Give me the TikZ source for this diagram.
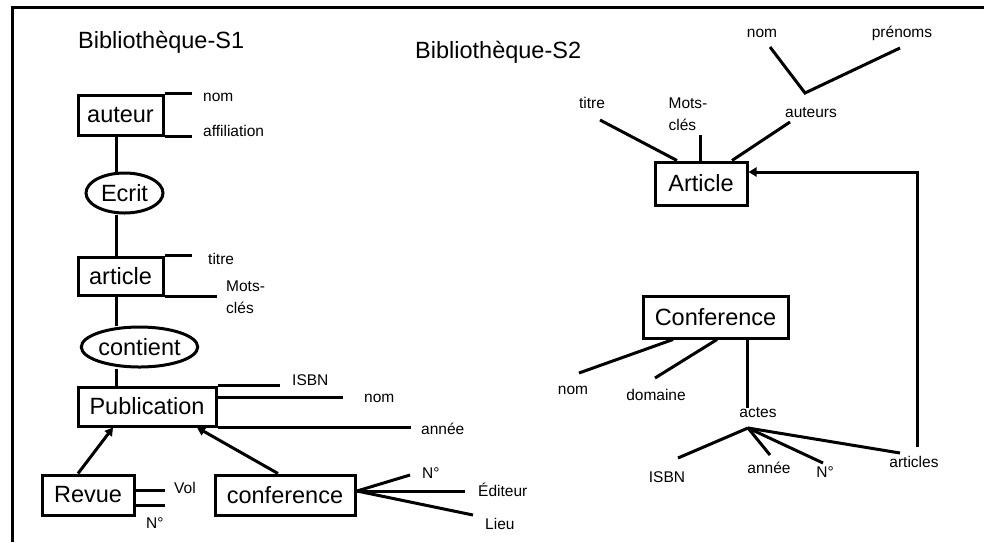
\documentclass[tikz,border=0pt]{standalone}
\usepackage{fontspec}
\setmainfont{Liberation Sans}
\usetikzlibrary{arrows.meta,shapes.geometric}

\tikzset{
  ln/.style={line width=3pt},
  ent/.style={draw, line width=3pt, inner sep=0pt, font=\fontsize{23.5}{26}\selectfont},
  rel/.style={ent, ellipse},
  attr/.style={inner sep=0pt, font=\fontsize{15.5}{22}\selectfont},
  ttl/.style={inner sep=0pt, font=\fontsize{23.5}{26}\selectfont},
  isa/.style={ln, -{Triangle[length=8pt,width=9pt]}},
}

\begin{document}
\begin{tikzpicture}[x=1pt,y=-1pt]
\useasboundingbox (0,0) rectangle (984,542);

% page frame
\coordinate (fr1) at (984,7);
\coordinate (fr2) at (12,7);
\coordinate (fr3) at (12,542);
\draw[ln] (fr1) -- (fr2) -- (fr3);

% ---------------- schema S1 ----------------
\node[ttl, anchor=base west] (t1) at (78,48) {Bibliothèque-S1};

\node[ent, minimum width=85pt, minimum height=40pt] (auteur) at (120.5,115) {auteur};
\node[rel, minimum width=77pt, minimum height=40pt] (ecrit) at (124.5,193) {Ecrit};
\node[ent, minimum width=85pt, minimum height=38pt] (article) at (120.5,276) {article};
\node[rel, minimum width=105pt, minimum height=40pt] (contient) at (139.5,347) {contient};
\node[ent, minimum width=138pt, minimum height=39pt] (pub) at (147,406.5) {Publication};
\node[ent, minimum width=92pt, minimum height=40pt] (revue) at (88,495) {Revue};
\node[ent, minimum width=140pt, minimum height=40pt] (conf) at (285,495) {conference};

% spine between auteur and Publication
\coordinate (spine) at (116,0);
\draw[ln] (auteur.south -| spine) -- (ecrit.north -| spine);
\draw[ln] (ecrit.south -| spine) -- (article.north -| spine);
\draw[ln] (article.south -| spine) -- (contient.north -| spine);
\draw[ln] (contient.south -| spine) -- (pub.north -| spine);

% auteur attributes
\coordinate (au1) at (192,0);
\coordinate (au2) at (192,0);
\draw[ln] (auteur.north east) -- (au1 |- auteur.north east);
\draw[ln] (auteur.south east) -- (au2 |- auteur.south east);
\node[attr, anchor=west] (aunom) at (203,97) {nom};
\node[attr, anchor=west] (auaff) at (203,131) {affiliation};

% article attributes
\coordinate (ar1) at (192,0);
\coordinate (ar2) at (217,0);
\draw[ln] (article.north east) -- (ar1 |- article.north east);
\draw[ln] (article.south east) -- (ar2 |- article.south east);
\node[attr, anchor=west] (artitre) at (208,259) {titre};
\node[attr, anchor=west, align=left] (armots) at (226,297) {Mots-\\clés};

% Publication attributes
\coordinate (pb1) at (280,0);
\coordinate (pb2) at (343,397);
\coordinate (pb3) at (411,0);
\draw[ln] (pub.north east) -- (pb1 |- pub.north east);
\draw[ln] (pb2 -| pub.east) -- (pb2);
\draw[ln] (pub.south east) -- (pb3 |- pub.south east);
\node[attr, anchor=west] (pbisbn) at (292,380) {ISBN};
\node[attr, anchor=west] (pbnom) at (364,398) {nom};
\node[attr, anchor=west] (pbannee) at (421,429) {année};

% Revue attributes
\coordinate (rv1) at (165,490);
\coordinate (rv2) at (165,505);
\draw[ln] (rv1 -| revue.east) -- (rv1);
\draw[ln] (rv2 -| revue.east) -- (rv2);
\node[attr, anchor=west] (rvvol) at (174,488) {Vol};
\node[attr, anchor=west] (rvno) at (146,523) {N°};

% conference attributes
\coordinate (cv) at (357,491);
\coordinate (cf1) at (410,475);
\coordinate (cf2) at (465,491);
\coordinate (cf3) at (473,515);
\draw[ln] (cv) -- (cf1);
\draw[ln] (cv) -- (cf2);
\draw[ln] (cv) -- (cf3);
\node[attr, anchor=west] (cfno) at (422,473) {N°};
\node[attr, anchor=west] (cfed) at (478,490) {Éditeur};
\node[attr, anchor=west] (cflieu) at (485,524) {Lieu};

% specialisation arrows
\draw[isa] ([xshift=-10pt]revue.north) -- ([xshift=-34pt]pub.south);
\draw[isa] ([xshift=-7pt]conf.north) -- ([xshift=50pt]pub.south);

% ---------------- schema S2 ----------------
\node[ttl, anchor=base west] (t2) at (415,58) {Bibliothèque-S2};

\node[ent, minimum width=92pt, minimum height=43pt] (art2) at (701,183.5) {Article};
\node[ent, minimum width=145pt, minimum height=42pt] (conf2) at (715.5,317) {Conference};

% Article attributes
\node[attr] (a2titre) at (592,103) {titre};
\node[attr, align=left] (a2mots) at (688,114) {Mots-\\clés};
\node[attr] (a2aut) at (811,113) {auteurs};
\node[attr] (a2nom) at (762,33) {nom};
\node[attr] (a2pre) at (902,33) {prénoms};

\coordinate (a2t) at (600,120);
\coordinate (a2m) at (700,135);
\coordinate (a2a) at (790,122);
\draw[ln] (a2t) -- (art2.north west -| 677,0);
\draw[ln] (a2m) -- (art2.north west -| 700,0);
\draw[ln] (a2a) -- (art2.north west -| 732,0);

\coordinate (vn) at (770,47);
\coordinate (vb) at (805,93);
\coordinate (vp) at (900,48);
\draw[ln] (vn) -- (vb) -- (vp);

% Conference attributes
\node[attr] (c2nom) at (573,390) {nom};
\node[attr] (c2dom) at (656,395) {domaine};
\node[attr] (c2act) at (758,413) {actes};
\coordinate (c2n) at (579,373);
\coordinate (c2d) at (655,378);
\draw[ln] (conf2.south west -| 673,0) -- (c2n);
\draw[ln] (conf2.south west -| 717,0) -- (c2d);
\draw[ln] (conf2.south west -| 747,0) -- (c2act.north -| 747,0);

% actes components
\node[attr] (c2isbn) at (667,477) {ISBN};
\node[attr] (c2an) at (769,468) {année};
\node[attr] (c2no) at (825,472) {N°};
\node[attr] (c2arts) at (914,462) {articles};
\coordinate (ac) at (748,428);
\coordinate (ac1) at (678,458);
\coordinate (ac2) at (770,455);
\coordinate (ac3) at (823,463);
\coordinate (ac4) at (900,453);
\draw[ln] (ac) -- (ac1);
\draw[ln] (ac) -- (ac2);
\draw[ln] (ac) -- (ac3);
\draw[ln] (ac) -- (ac4);

% reference from articles back to Article
\coordinate (rf) at (917,447);
\draw[isa] (rf) |- ([yshift=11.5pt]art2.east);

\end{tikzpicture}
\end{document}
